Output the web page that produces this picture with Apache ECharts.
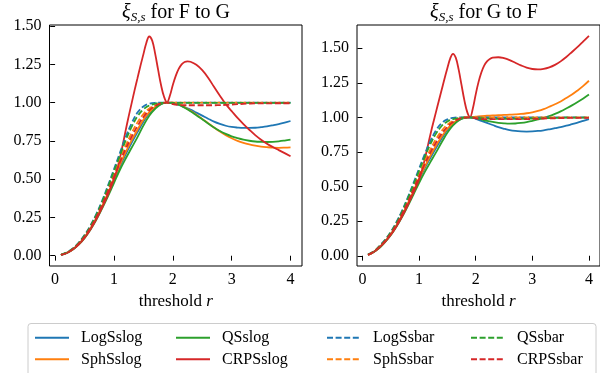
<!DOCTYPE html>
<html>
<head>
<meta charset="utf-8">
<script src="https://cdn.jsdelivr.net/npm/echarts@6/dist/echarts.min.js"></script>
<style>html,body{margin:0;padding:0;background:#fff}#c{width:600px;height:373px}</style>
</head>
<body>
<div id="c"></div>
<script>
// ---- data ----
const xs = [0.1,0.2,0.3,0.4,0.5,0.6,0.7,0.8,0.9,1.0,1.1,1.2,1.3,1.4,1.5,1.6,1.7,1.8,1.9,2.0,2.1,2.2,2.3,2.4,2.5,2.6,2.7,2.8,2.9,3.0,3.1,3.2,3.3,3.4,3.5,3.6,3.7,3.8,3.9,4.0];
const xsRed = [0.1,0.2,0.3,0.4,0.5,0.6,0.7,0.8,0.9,1.0,1.05,1.1,1.15,1.2,1.25,1.3,1.35,1.4,1.45,1.5,1.55,1.6,1.65,1.7,1.75,1.8,1.85,1.9,1.95,2.0,2.05,2.1,2.15,2.2,2.25,2.3,2.4,2.5,2.6,2.7,2.8,2.9,3.0,3.1,3.2,3.3,3.4,3.5,3.6,3.7,3.8,3.9,4.0];

// F to G (left panel)
const fgLogSslog = [0.005,0.019,0.041,0.075,0.119,0.175,0.242,0.320,0.404,0.493,0.582,0.663,0.737,0.807,0.875,0.931,0.968,0.992,1.000,0.995,0.985,0.970,0.955,0.935,0.915,0.895,0.876,0.861,0.849,0.841,0.837,0.835,0.835,0.836,0.840,0.845,0.852,0.860,0.870,0.880];
const fgSphSslog = [0.005,0.019,0.042,0.076,0.121,0.178,0.246,0.325,0.411,0.502,0.593,0.677,0.753,0.823,0.888,0.938,0.972,0.993,1.002,1.000,0.990,0.970,0.947,0.921,0.894,0.866,0.838,0.811,0.787,0.767,0.750,0.737,0.727,0.719,0.713,0.709,0.706,0.705,0.706,0.708];
const fgQSslog = [0.005,0.018,0.040,0.072,0.115,0.170,0.235,0.310,0.390,0.475,0.560,0.635,0.705,0.775,0.850,0.915,0.960,0.990,1.000,0.997,0.986,0.967,0.944,0.918,0.891,0.864,0.838,0.815,0.796,0.780,0.768,0.758,0.751,0.746,0.744,0.743,0.744,0.747,0.752,0.758];
const fgCRPSslog = [0.005,0.018,0.041,0.073,0.117,0.172,0.238,0.315,0.400,0.500,0.560,0.635,0.725,0.820,0.910,0.995,1.080,1.160,1.240,1.315,1.390,1.432,1.405,1.320,1.215,1.115,1.040,1.003,1.045,1.115,1.175,1.220,1.250,1.265,1.270,1.267,1.247,1.212,1.163,1.103,1.045,0.990,0.945,0.900,0.860,0.823,0.788,0.758,0.732,0.710,0.690,0.670,0.650];
const fgLogSsbar = [0.006,0.021,0.047,0.085,0.135,0.197,0.272,0.360,0.460,0.565,0.670,0.775,0.865,0.935,0.975,0.993,0.999,1.000,1.000,1.000,1.000,1.000,1.000,1.000,1.000,1.000,1.000,1.000,1.000,1.000,1.000,1.000,1.000,1.000,1.000,1.000,1.000,1.000,1.000,1.000];
const fgSphSsbar = [0.006,0.020,0.044,0.080,0.127,0.186,0.257,0.340,0.432,0.529,0.626,0.719,0.801,0.871,0.925,0.962,0.983,0.996,1.000,1.000,1.000,1.000,1.000,1.000,1.000,1.000,1.000,1.000,1.000,1.000,1.000,1.000,1.000,1.000,1.000,1.000,1.000,1.000,1.000,1.000];
const fgQSsbar = [0.006,0.021,0.046,0.083,0.132,0.193,0.266,0.352,0.450,0.552,0.653,0.754,0.841,0.911,0.956,0.981,0.993,0.998,0.999,0.998,0.998,0.998,0.998,0.998,0.998,0.998,0.998,0.998,0.998,0.998,0.999,0.999,0.999,0.999,0.999,0.999,0.999,0.999,0.999,0.999];
const fgCRPSsbar = [0.005,0.019,0.043,0.078,0.124,0.182,0.252,0.333,0.422,0.516,0.610,0.698,0.777,0.847,0.906,0.950,0.978,0.995,1.000,0.990,0.985,0.983,0.983,0.983,0.983,0.983,0.983,0.984,0.985,0.987,0.990,0.992,0.994,0.995,0.995,0.995,0.996,0.996,0.996,0.996];

// G to F (right panel)
const gfLogSslog = [0.007,0.028,0.061,0.101,0.153,0.215,0.289,0.370,0.457,0.546,0.631,0.707,0.779,0.848,0.909,0.953,0.982,0.997,1.000,0.990,0.975,0.960,0.945,0.930,0.918,0.908,0.902,0.899,0.898,0.899,0.902,0.907,0.914,0.922,0.930,0.940,0.951,0.962,0.975,0.987];
const gfSphSslog = [0.007,0.028,0.062,0.103,0.155,0.219,0.293,0.377,0.466,0.557,0.643,0.723,0.795,0.862,0.918,0.958,0.985,1.000,1.003,1.006,1.010,1.012,1.014,1.016,1.018,1.020,1.022,1.025,1.030,1.037,1.047,1.060,1.077,1.095,1.115,1.140,1.165,1.195,1.228,1.265];
const gfQSslog = [0.007,0.027,0.055,0.098,0.148,0.209,0.280,0.358,0.441,0.526,0.605,0.677,0.747,0.820,0.889,0.942,0.978,0.996,1.000,0.995,0.985,0.975,0.967,0.961,0.957,0.955,0.956,0.960,0.966,0.975,0.985,0.996,1.010,1.026,1.044,1.065,1.087,1.111,1.137,1.165];
const gfCRPSslog = [0.007,0.027,0.060,0.100,0.150,0.212,0.284,0.365,0.455,0.550,0.615,0.695,0.785,0.875,0.960,1.040,1.120,1.200,1.280,1.355,1.425,1.460,1.430,1.345,1.235,1.125,1.040,1.003,1.065,1.165,1.255,1.325,1.375,1.405,1.423,1.432,1.435,1.428,1.414,1.395,1.376,1.360,1.350,1.347,1.351,1.362,1.380,1.405,1.437,1.473,1.510,1.550,1.590];
const gfLogSsbar = [0.008,0.030,0.070,0.115,0.172,0.242,0.325,0.420,0.523,0.628,0.733,0.829,0.907,0.959,0.986,0.997,1.000,1.000,1.000,1.000,1.000,1.000,1.000,1.000,1.000,1.000,1.000,1.000,1.000,1.000,1.000,1.000,1.000,1.000,1.000,1.000,1.000,1.000,1.000,1.000];
const gfSphSsbar = [0.007,0.030,0.066,0.108,0.162,0.229,0.307,0.395,0.490,0.587,0.682,0.768,0.843,0.903,0.947,0.975,0.991,0.998,1.000,1.000,1.000,1.000,1.000,1.000,1.000,1.000,1.000,1.000,1.000,1.000,1.000,1.000,1.000,1.000,1.000,1.000,1.000,1.000,1.000,1.000];
const gfQSsbar = [0.008,0.030,0.068,0.112,0.169,0.237,0.318,0.411,0.511,0.613,0.714,0.806,0.883,0.938,0.971,0.988,0.996,0.999,0.999,0.997,0.994,0.992,0.990,0.989,0.989,0.989,0.989,0.990,0.991,0.992,0.993,0.994,0.995,0.996,0.997,0.998,0.998,0.999,0.999,0.999];
const gfCRPSsbar = [0.007,0.028,0.064,0.106,0.159,0.224,0.301,0.386,0.478,0.572,0.663,0.745,0.819,0.882,0.932,0.967,0.988,0.998,1.000,0.994,0.990,0.988,0.987,0.987,0.987,0.987,0.987,0.987,0.988,0.989,0.990,0.992,0.993,0.994,0.995,0.996,0.996,0.997,0.997,0.997];

const xTicks = [0,1,2,3,4];
const yTicks = [0,0.25,0.5,0.75,1.0,1.25,1.5];

// ---- chart ----
const FONT = 'Liberation Serif';
const C = {blue:'#1f77b4', orange:'#ff7f0e', green:'#2ca02c', red:'#d62728'};
const DASH = [6, 2.6];
function pairs(x, y){ return x.map((v,i)=>[v,y[i]]); }

const panels = [
  {x: xs, xr: xsRed, d: [fgLogSslog, fgSphSslog, fgQSslog, fgCRPSslog, fgLogSsbar, fgSphSsbar, fgQSsbar, fgCRPSsbar]},
  {x: xs, xr: xsRed, d: [gfLogSslog, gfSphSslog, gfQSslog, gfCRPSslog, gfLogSsbar, gfSphSsbar, gfQSsbar, gfCRPSsbar]}
];
const names = ['LogSslog','SphSslog','QSslog','CRPSslog','LogSsbar','SphSsbar','QSsbar','CRPSsbar'];
const cols = [C.blue, C.orange, C.green, C.red, C.blue, C.orange, C.green, C.red];

const series = [];
panels.forEach((p, pi) => {
  names.forEach((n, k) => {
    const xv = (k === 3) ? p.xr : p.x;
    series.push({
      type: 'line', name: n, xAxisIndex: pi, yAxisIndex: pi,
      data: pairs(xv, p.d[k]), symbol: 'none', smooth: 0.4,
      lineStyle: {color: cols[k], width: 1.8, type: k >= 4 ? DASH : 'solid'},
      itemStyle: {color: cols[k]},
      z: 2 + k
    });
  });
});

function xAxis(gi){
  return {
    type: 'value', gridIndex: gi, min: -0.095, max: 4.195,
    axisLine: {show: false},
    axisTick: {show: true, length: 4.9, customValues: xTicks, lineStyle: {color: '#000', width: 1}},
    axisLabel: {customValues: xTicks, margin: 6, fontFamily: FONT, fontSize: 16, color: '#000', formatter: v => String(v)},
    splitLine: {show: false},
    name: 'threshold {i|r}', nameLocation: 'middle', nameGap: 24,
    nameTextStyle: {fontFamily: FONT, fontSize: 17, color: '#000', rich: {i: {fontFamily: FONT, fontSize: 17, fontStyle: 'italic', color: '#000'}}}
  };
}
function yAxis(gi, mn, mx){
  return {
    type: 'value', gridIndex: gi, min: mn, max: mx,
    axisLine: {show: false},
    axisTick: {show: true, length: 4.9, customValues: yTicks, lineStyle: {color: '#000', width: 1}},
    axisLabel: {customValues: yTicks, margin: 8, fontFamily: FONT, fontSize: 16, color: '#000', formatter: v => v.toFixed(2)},
    splitLine: {show: false}
  };
}

function legendCol(left, data){
  return {
    orient: 'vertical', left: left, top: 329.7, height: 60, padding: 0,
    itemWidth: 34, itemHeight: 16, itemGap: 5.6,
    data: data, selectedMode: false,
    itemStyle: {opacity: 0},
    textStyle: {fontFamily: FONT, fontSize: 16, color: '#000', lineHeight: 16, padding: [0,0,0,7]}
  };
}

function titleText(x, tail){
  return {
    type: 'text', x: x, y: 12.6, z: 10,
    style: {
      text: '{g|ξ}{s|S,s}{t| ' + tail + '}',
      align: 'center', verticalAlign: 'middle',
      rich: {
        g: {fontFamily: FONT, fontSize: 20, fontStyle: 'italic', lineHeight: 22, fill: '#000', verticalAlign: 'middle'},
        s: {fontFamily: FONT, fontSize: 13, fontStyle: 'italic', lineHeight: 10, fill: '#000', verticalAlign: 'bottom'},
        t: {fontFamily: FONT, fontSize: 20, lineHeight: 22, fill: '#000', verticalAlign: 'middle'}
      }
    }
  };
}

const option = {
  animation: false,
  backgroundColor: '#fff',
  grid: [
    {left: 49.5, top: 25, width: 252.5, height: 241, show: true, borderColor: '#000', borderWidth: 1},
    {left: 357, top: 25, width: 254, height: 241, show: true, borderColor: '#000', borderWidth: 1}
  ],
  xAxis: [xAxis(0), xAxis(1)],
  yAxis: [yAxis(0, -0.067, 1.507), yAxis(1, -0.074, 1.668)],
  legend: [
    legendCol(34, ['LogSslog','SphSslog']),
    legendCol(175, ['QSslog','CRPSslog']),
    legendCol(326, ['LogSsbar','SphSsbar']),
    legendCol(470, ['QSsbar','CRPSsbar'])
  ],
  graphic: [
    {type: 'rect', z: 1, shape: {x: 28, y: 323.5, width: 568, height: 60, r: 3},
     style: {fill: 'rgba(255,255,255,0.8)', stroke: '#cccccc', lineWidth: 1}},
    titleText(176, 'for F to G'),
    titleText(484, 'for G to F')
  ],
  series: series
};

const chart = echarts.init(document.getElementById('c'), null, {renderer: 'canvas'});
chart.setOption(option);
</script>
</body>
</html>
